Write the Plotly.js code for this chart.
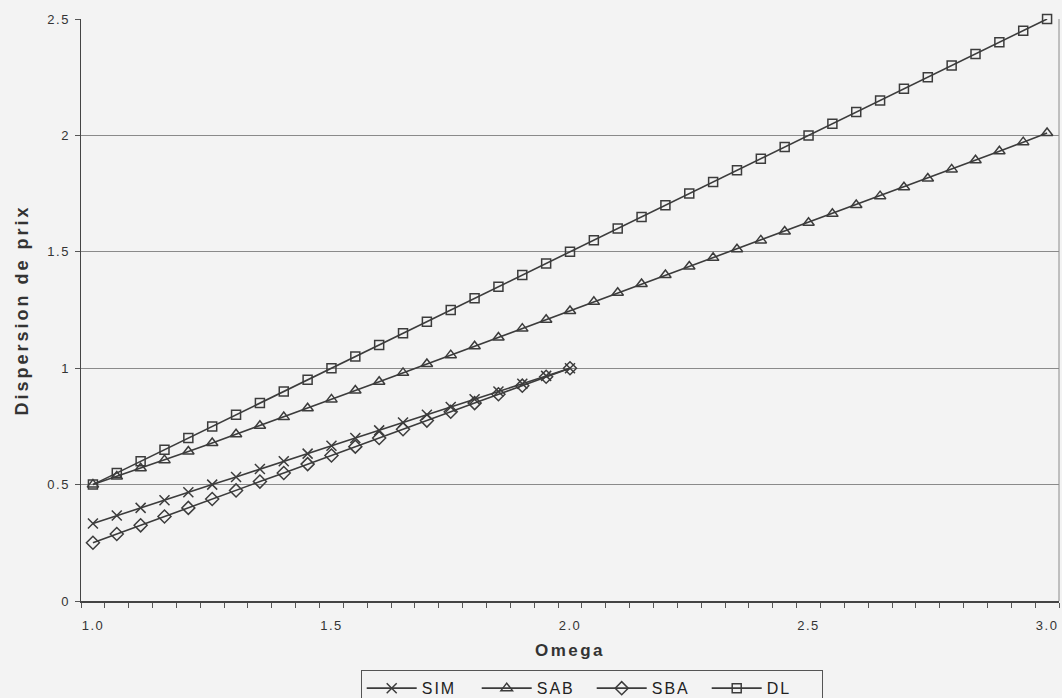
<!DOCTYPE html>
<html>
<head>
<meta charset="utf-8">
<script src="https://cdn.plot.ly/plotly-3.0.1.min.js"></script>
<style>
  html, body { margin: 0; padding: 0; background: #f3f3f3; }
  #chart { width: 1062px; height: 698px; }
  .xtitle { letter-spacing: 2.5px; }
  .ytitle { letter-spacing: 3px; }
  g.xtick text, g.ytick text { letter-spacing: 1.5px; }
  .legendtext { letter-spacing: 2px; }
</style>
</head>
<body>
<div id="chart"></div>
<script>
// Category values (Omega)
const omega = [1.0,1.05,1.1,1.15,1.2,1.25,1.3,1.35,1.4,1.45,1.5,1.55,1.6,1.65,1.7,1.75,1.8,1.85,1.9,1.95,2.0,
               2.05,2.1,2.15,2.2,2.25,2.3,2.35,2.4,2.45,2.5,2.55,2.6,2.65,2.7,2.75,2.8,2.85,2.9,2.95,3.0];
const omegaShort = [1.0,1.05,1.1,1.15,1.2,1.25,1.3,1.35,1.4,1.45,1.5,1.55,1.6,1.65,1.7,1.75,1.8,1.85,1.9,1.95,2.0];

// Series values
const sim = [0.333,0.367,0.4,0.433,0.467,0.5,0.533,0.567,0.6,0.633,0.667,0.7,0.733,0.767,0.8,0.833,0.867,0.9,0.933,0.967,1.0];
const sab = [0.5,0.535,0.57,0.605,0.642,0.679,0.716,0.753,0.79,0.828,0.866,0.904,0.942,0.98,1.018,1.056,1.094,1.132,1.17,1.208,1.246,
             1.285,1.324,1.362,1.4,1.437,1.474,1.511,1.549,1.587,1.625,1.663,1.701,1.739,1.777,1.815,1.854,1.893,1.932,1.971,2.01];
const sba = [0.25,0.288,0.325,0.363,0.4,0.438,0.475,0.513,0.55,0.588,0.625,0.663,0.7,0.738,0.775,0.813,0.85,0.888,0.925,0.963,1.0];
const dl  = [0.5,0.55,0.6,0.65,0.7,0.75,0.8,0.85,0.9,0.95,1.0,1.05,1.1,1.15,1.2,1.25,1.3,1.35,1.4,1.45,1.5,
             1.55,1.6,1.65,1.7,1.75,1.8,1.85,1.9,1.95,2.0,2.05,2.1,2.15,2.2,2.25,2.3,2.35,2.4,2.45,2.5];

const yTickVals = [0, 0.5, 1, 1.5, 2, 2.5];
const yTickText = ['0', '0.5', '1', '1.5', '2', '2.5'];

const lineCol = '#3c3c3c';
const FONT = 'Liberation Sans, Arial, sans-serif';

function series(name, x, y, symbol, size) {
  return {
    type: 'scatter', mode: 'lines+markers', name: name, x: x, y: y,
    cliponaxis: false,
    line: { color: lineCol, width: 1.6 },
    marker: { symbol: symbol, size: size, color: lineCol,
              line: { color: lineCol, width: 1.5 } }
  };
}

const data = [
  series('SIM', omegaShort, sim, 'x-thin-open', 10),
  series('SAB', omega, sab, 'triangle-up-open', 10),
  series('SBA', omegaShort, sba, 'diamond-open', 10),
  series('DL', omega, dl, 'square-open', 9)
];

const layout = {
  width: 1062, height: 698,
  paper_bgcolor: '#f3f3f3', plot_bgcolor: '#f3f3f3',
  margin: { l: 81, r: 3, t: 19, b: 97, autoexpand: false },
  font: { family: FONT, color: '#333', size: 13 },
  showlegend: true,
  legend: {
    orientation: 'h', x: 0.286, xanchor: 'left', y: -0.119, yanchor: 'top',
    bgcolor: '#f3f3f3', bordercolor: '#555', borderwidth: 1,
    font: { family: FONT, size: 16, color: '#222' },
    itemwidth: 50, entrywidth: 50, tracegroupgap: 0
  },
  xaxis: {
    range: [0.975, 3.025], tickmode: 'linear', tick0: 1, dtick: 0.5, tickformat: '.1f',
    ticks: '', showgrid: false, zeroline: false,
    showline: true, linecolor: '#444', linewidth: 1.5,
    ticklabelstandoff: 12,
    tickfont: { family: FONT, size: 13, color: '#333' },
    minor: { ticks: 'outside', tick0: 1.025, dtick: 0.05, ticklen: 5, tickwidth: 1, tickcolor: '#555', showgrid: false },
    title: { text: 'Omega', font: { family: FONT, size: 17, color: '#333', weight: 'bold' }, standoff: 12 }
  },
  yaxis: {
    range: [0, 2.5], tickmode: 'array', tickvals: yTickVals, ticktext: yTickText,
    ticks: 'outside', ticklen: 5, tickcolor: '#555', tickwidth: 1,
    showgrid: true, gridcolor: '#8a8a8a', gridwidth: 1, zeroline: false,
    showline: true, linecolor: '#444', linewidth: 1.5,
    ticklabelstandoff: 2, automargin: true,
    tickfont: { family: FONT, size: 13, color: '#333' },
    title: { text: 'Dispersion de prix', standoff: 14,
             font: { family: FONT, size: 18, color: '#333', weight: 'bold' } }
  },
  shapes: [
    { type: 'line', xref: 'paper', yref: 'paper', x0: 1, x1: 1, y0: 0, y1: 1,
      line: { color: '#8a8a8a', width: 1 } }
  ]
};

Plotly.newPlot('chart', data, layout, { displayModeBar: false, staticPlot: true });
</script>
</body>
</html>
